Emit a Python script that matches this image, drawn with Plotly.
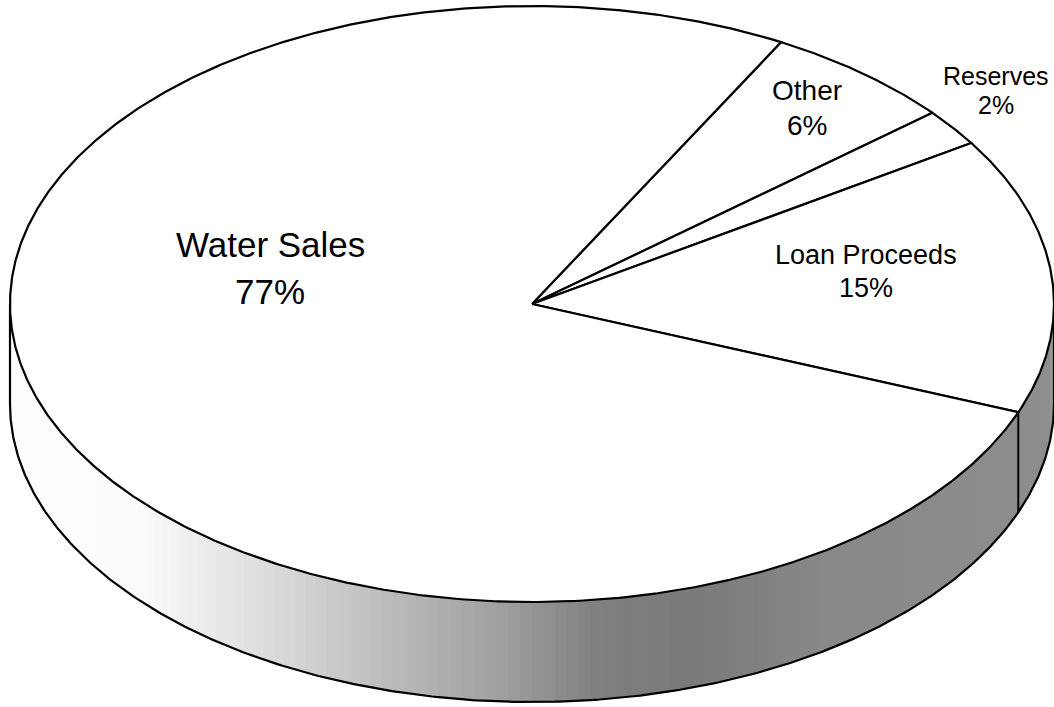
import numpy as np
import plotly.graph_objects as go

# ---- data (clockwise from the top-right) ----
labels = ["Other", "Reserves", "Loan Proceeds", "Water Sales"]
values = [6, 2, 15, 77]

# ---- geometry / style ----
W, H = 1054, 707
cx, cy = 532, 304
rx, ry = 522, 298
depth = 100
start_deg = 28.5
line_w = 2.2

def pt(theta_deg, dy=0.0):
    t = np.radians(theta_deg)
    return cx + rx * np.sin(t), cy - ry * np.cos(t) + dy

fig = go.Figure()

# ---- side wall with gradient shading ----
gx = [0, 140, 260, 400, 500, 600, 690, 820, 1054]
gv = [255, 252, 222, 185, 160, 128, 122, 136, 142]
N = 140
edges = np.linspace(90, 270, N + 1)
for i in range(N):
    a0, a1 = edges[i], edges[i + 1]
    a1e = min(a1 + 0.35, 270)
    ts = np.linspace(a0, a1e, 4)
    xt, yt = pt(ts)
    xb, yb = pt(ts[::-1], depth)
    xm, _ = pt((a0 + a1) / 2)
    g = int(np.interp(xm, gx, gv))
    col = f"rgb({g},{g},{g})"
    fig.add_trace(go.Scatter(
        x=list(xt) + list(xb), y=list(yt) + list(yb),
        mode="lines", fill="toself", fillcolor=col,
        line=dict(width=0, color=col), hoverinfo="skip", showlegend=False))

# wall outline: bottom arc + side edges
ta = np.linspace(90, 270, 400)
xb, yb = pt(ta, depth)
fig.add_trace(go.Scatter(x=xb, y=yb, mode="lines",
                         line=dict(color="black", width=line_w),
                         hoverinfo="skip", showlegend=False))
for a in (90, 270):
    x0, y0 = pt(a)
    fig.add_trace(go.Scatter(x=[x0, x0], y=[y0, y0 + depth], mode="lines",
                             line=dict(color="black", width=line_w),
                             hoverinfo="skip", showlegend=False))

# ---- top face slices ----
total = sum(values)
ang = start_deg
bounds = []
for lab, v in zip(labels, values):
    span = 360 * v / total
    ts = np.linspace(ang, ang + span, max(int(span * 3), 4))
    xs, ys = pt(ts)
    fig.add_trace(go.Scatter(
        x=[cx] + list(xs) + [cx], y=[cy] + list(ys) + [cy],
        mode="lines", fill="toself", fillcolor="white",
        line=dict(color="black", width=line_w),
        hoverinfo="skip", showlegend=False, name=lab))
    bounds.append((ang, ang + span))
    ang += span

# slice edges that fall on the visible wall
for a0, a1 in bounds:
    for a in (a0 % 360, a1 % 360):
        if 90 < a < 270:
            x0, y0 = pt(a)
            fig.add_trace(go.Scatter(x=[x0, x0], y=[y0, y0 + depth], mode="lines",
                                     line=dict(color="black", width=1.6),
                                     hoverinfo="skip", showlegend=False))

# ---- labels ----
label_pos = {
    "Water Sales": (270, 244, 291, 35),
    "Loan Proceeds": (866, 255, 288, 27),
    "Reserves": (996, 76, 105, 25),
    "Other": (807, 90, 125, 28),
}
for lab, v in zip(labels, values):
    x, y1, y2, fs = label_pos[lab]
    for txt, yy in ((lab, y1), (f"{v}%", y2)):
        fig.add_annotation(x=x, y=yy, text=txt, showarrow=False,
                           xanchor="center", yanchor="middle",
                           font=dict(family="Liberation Sans, Arial, sans-serif",
                                     size=fs, color="black"))

fig.update_layout(
    width=W, height=H,
    margin=dict(l=0, r=0, t=0, b=0),
    paper_bgcolor="white", plot_bgcolor="white",
    xaxis=dict(range=[0, W], visible=False, fixedrange=True),
    yaxis=dict(range=[H, 0], visible=False, fixedrange=True),
    showlegend=False,
)

fig.write_html("out.html",
               config={"displayModeBar": False, "staticPlot": True},
               post_script="document.body.style.margin='0';document.body.style.overflow='hidden';")
